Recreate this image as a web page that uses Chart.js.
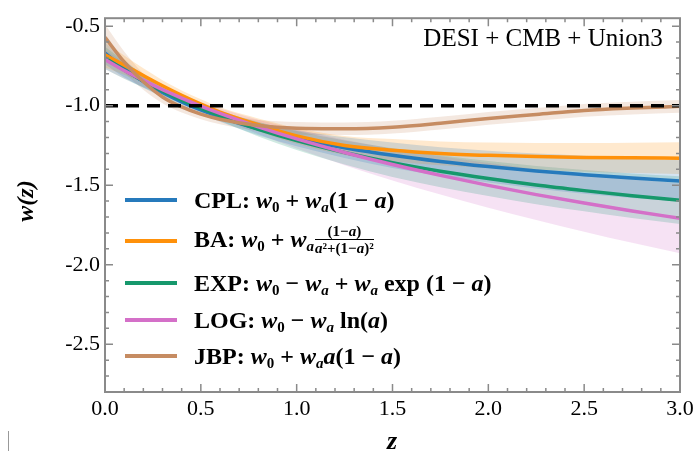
<!DOCTYPE html>
<html>
<head>
<meta charset="utf-8">
<script src="https://cdn.jsdelivr.net/npm/chart.js@4"></script>
<style>
  body { margin: 0; background: #fff; }
  #wrap { position: relative; width: 699px; height: 451px; font-family: "Liberation Serif", "Times New Roman", serif; color: #000; }
  canvas { position: absolute; left: 0; top: 0; }
  .lab { position: absolute; white-space: nowrap; transform: translate(-50%, -50%); }
  .entry { position: absolute; left: 125px; height: 30px; display: flex; align-items: center; font-size: 24px; font-weight: bold; white-space: nowrap; }
  .entry .ln { width: 52px; height: 4px; margin-right: 17px; flex: none; }
  .m { font-style: italic; }
  .op { margin: 0 6px; }
  sub { font-size: 15px; vertical-align: -4px; line-height: 0; font-style: normal; }
  sub.i { font-style: italic; }
  .frac { display: inline-flex; flex-direction: column; align-items: center; font-size: 15px; line-height: 15px; vertical-align: middle; margin-left: 1px; position: relative; top: -1px; }
  .frac span:last-child { border-top: 1.5px solid #000; padding-top: 1px; }
</style>
</head>
<body>
<div id="wrap">
  <canvas id="chart" width="699" height="451"></canvas>
  <div class="lab" style="left:543px; top:38px; font-size:25px;">DESI + CMB + Union3</div>
  <div class="lab m" style="left:25px; top:201px; font-size:24px; font-weight:bold; transform:translate(-50%, -50%) rotate(-90deg);">w(z)</div>
  <div class="lab m" style="left:392px; top:441px; font-size:26px; font-weight:bold;">z</div>
  <div style="position:absolute; left:8px; top:431px; width:1px; height:20px; background:#999;"></div>

  <div class="entry" style="top:185px;"><div class="ln" style="background:rgb(38,122,188)"></div><span>CPL: <span class="m">w</span><sub>0</sub><span class="op">+</span><span class="m">w</span><sub class="i">a</sub>(1<span class="op">−</span><span class="m">a</span>)</span></div>
  <div class="entry" style="top:226px;"><div class="ln" style="background:rgb(255,145,10)"></div><span>BA: <span class="m">w</span><sub>0</sub><span class="op">+</span><span class="m">w</span><sub class="i">a</sub><span class="frac"><span>(1−<i>a</i>)</span><span><i>a</i>²+(1−<i>a</i>)²</span></span></span></div>
  <div class="entry" style="top:268px;"><div class="ln" style="background:rgb(22,152,108)"></div><span>EXP: <span class="m">w</span><sub>0</sub><span class="op">−</span><span class="m">w</span><sub class="i">a</sub><span class="op">+</span><span class="m">w</span><sub class="i">a</sub> exp (1<span class="op">−</span><span class="m">a</span>)</span></div>
  <div class="entry" style="top:305px;"><div class="ln" style="background:rgb(212,112,200)"></div><span>LOG: <span class="m">w</span><sub>0</sub><span class="op">−</span><span class="m">w</span><sub class="i">a</sub> ln(<span class="m">a</span>)</span></div>
  <div class="entry" style="top:341px;"><div class="ln" style="background:rgb(198,140,98)"></div><span>JBP: <span class="m">w</span><sub>0</sub><span class="op">+</span><span class="m">w</span><sub class="i">a</sub><span class="m">a</span>(1<span class="op">−</span><span class="m">a</span>)</span></div>
</div>
<script>
// redshift grid
const zVals = [0, 0.1, 0.2, 0.3, 0.4, 0.5, 0.6, 0.8, 1.0, 1.25, 1.5, 1.75, 2.0, 2.25, 2.5, 2.75, 3.0];

// best fit curves
const cplW = [-0.67, -0.767, -0.848, -0.917, -0.976, -1.027, -1.071, -1.146, -1.205, -1.264, -1.312, -1.351, -1.383, -1.411, -1.434, -1.455, -1.473];
const baW  = [-0.68, -0.745, -0.81, -0.875, -0.935, -0.99, -1.04, -1.12, -1.19, -1.25, -1.28, -1.30, -1.312, -1.32, -1.325, -1.328, -1.33];
const expW = [-0.70, -0.776, -0.845, -0.908, -0.965, -1.016, -1.064, -1.148, -1.219, -1.294, -1.358, -1.412, -1.458, -1.499, -1.534, -1.566, -1.594];
const logW = [-0.71, -0.779, -0.841, -0.899, -0.952, -1.002, -1.048, -1.133, -1.209, -1.294, -1.37, -1.438, -1.501, -1.559, -1.612, -1.662, -1.708];
const jbpW = [-0.57, -0.725, -0.85, -0.945, -1.008, -1.053, -1.085, -1.125, -1.142, -1.145, -1.135, -1.11, -1.08, -1.055, -1.03, -1.015, -1.004];

// 1 sigma half widths of the bands
const cplSig = [0.07, 0.055, 0.04, 0.03, 0.025, 0.025, 0.03, 0.04, 0.05, 0.065, 0.08, 0.09, 0.1, 0.11, 0.12, 0.125, 0.13];
const baSig  = [0.08, 0.06, 0.045, 0.035, 0.03, 0.03, 0.03, 0.04, 0.05, 0.06, 0.07, 0.075, 0.08, 0.085, 0.09, 0.095, 0.1];
const expSig = [0.07, 0.055, 0.04, 0.03, 0.025, 0.025, 0.03, 0.045, 0.06, 0.075, 0.09, 0.1, 0.11, 0.12, 0.13, 0.14, 0.15];
const logSig = [0.06, 0.05, 0.04, 0.03, 0.025, 0.025, 0.03, 0.045, 0.06, 0.08, 0.1, 0.12, 0.14, 0.16, 0.18, 0.2, 0.22];
const jbpSig = [0.08, 0.065, 0.05, 0.04, 0.035, 0.032, 0.032, 0.035, 0.04, 0.04, 0.04, 0.04, 0.04, 0.04, 0.04, 0.04, 0.04];

const lcdmZ = [0, 3];
const lcdmW = [-1, -1];

const xTicks = [0, 0.5, 1.0, 1.5, 2.0, 2.5, 3.0];
const yTicks = [-2.5, -2.0, -1.5, -1.0, -0.5];

const series = [
  { name: 'CPL', w: cplW, sig: cplSig, rgb: '38,122,188' },
  { name: 'BA',  w: baW,  sig: baSig,  rgb: '255,145,10' },
  { name: 'EXP', w: expW, sig: expSig, rgb: '22,152,108' },
  { name: 'LOG', w: logW, sig: logSig, rgb: '212,112,200' },
  { name: 'JBP', w: jbpW, sig: jbpSig, rgb: '198,140,98' }
];

const pts = (xs, ys) => xs.map((x, i) => ({ x: x, y: ys[i] }));

// first dataset is drawn on top
const datasets = [{
  data: pts(lcdmZ, lcdmW), borderColor: '#000', borderWidth: 3.5, borderDash: [13, 8], pointRadius: 0, fill: false
}];
series.slice().reverse().forEach(s => {
  datasets.push({
    data: pts(zVals, s.w), borderColor: `rgb(${s.rgb})`, borderWidth: 3.5, pointRadius: 0,
    fill: false, cubicInterpolationMode: 'monotone'
  });
});
series.forEach(s => {
  datasets.push({
    data: pts(zVals, s.w.map((v, i) => v + s.sig[i])), borderWidth: 0, pointRadius: 0,
    fill: '+1', backgroundColor: `rgba(${s.rgb},0.2)`, cubicInterpolationMode: 'monotone'
  });
  datasets.push({
    data: pts(zVals, s.w.map((v, i) => v - s.sig[i])), borderWidth: 0, pointRadius: 0,
    fill: false, cubicInterpolationMode: 'monotone'
  });
});

// frame with inward ticks on all sides
const framePlugin = {
  id: 'frame',
  afterDatasetsDraw(chart) {
    const { ctx, chartArea: a, scales } = chart;
    ctx.save();
    ctx.strokeStyle = '#8a8a8a';
    ctx.lineWidth = 2;
    ctx.strokeRect(a.left, a.top, a.right - a.left, a.bottom - a.top);
    ctx.lineWidth = 1.5;
    for (let k = 0; k <= 30; k++) {
      const px = scales.x.getPixelForValue(k / 10);
      const len = k % 5 === 0 ? 8 : 4;
      ctx.beginPath();
      ctx.moveTo(px, a.bottom); ctx.lineTo(px, a.bottom - len);
      ctx.moveTo(px, a.top); ctx.lineTo(px, a.top + len);
      ctx.stroke();
    }
    for (let k = 5; k <= 27; k++) {
      const py = scales.y.getPixelForValue(-k / 10);
      const len = k % 5 === 0 ? 8 : 4;
      ctx.beginPath();
      ctx.moveTo(a.left, py); ctx.lineTo(a.left + len, py);
      ctx.moveTo(a.right, py); ctx.lineTo(a.right - len, py);
      ctx.stroke();
    }
    ctx.restore();
  }
};

const tickFont = { family: '"Liberation Serif", "Times New Roman", serif', size: 22 };

new Chart(document.getElementById('chart'), {
  type: 'line',
  data: { datasets: datasets },
  options: {
    responsive: false,
    animation: false,
    devicePixelRatio: 1,
    layout: { padding: { left: 0, right: 19, top: 11, bottom: 0 } },
    plugins: { legend: { display: false }, tooltip: { enabled: false } },
    scales: {
      x: {
        type: 'linear', min: 0, max: 3,
        afterBuildTicks: s => { s.ticks = xTicks.map(v => ({ value: v })); },
        ticks: { callback: v => v.toFixed(1), font: tickFont, color: '#000', padding: 4, maxRotation: 0 },
        grid: { display: false, drawTicks: false },
        border: { display: false },
        afterFit: s => { s.height = 59; }
      },
      y: {
        type: 'linear', min: -2.8, max: -0.45,
        afterBuildTicks: s => { s.ticks = yTicks.map(v => ({ value: v })); },
        ticks: { callback: v => v.toFixed(1), font: tickFont, color: '#000', padding: 5 },
        grid: { display: false, drawTicks: false },
        border: { display: false },
        afterFit: s => { s.width = 105; }
      }
    }
  },
  plugins: [framePlugin]
});
</script>
</body>
</html>
